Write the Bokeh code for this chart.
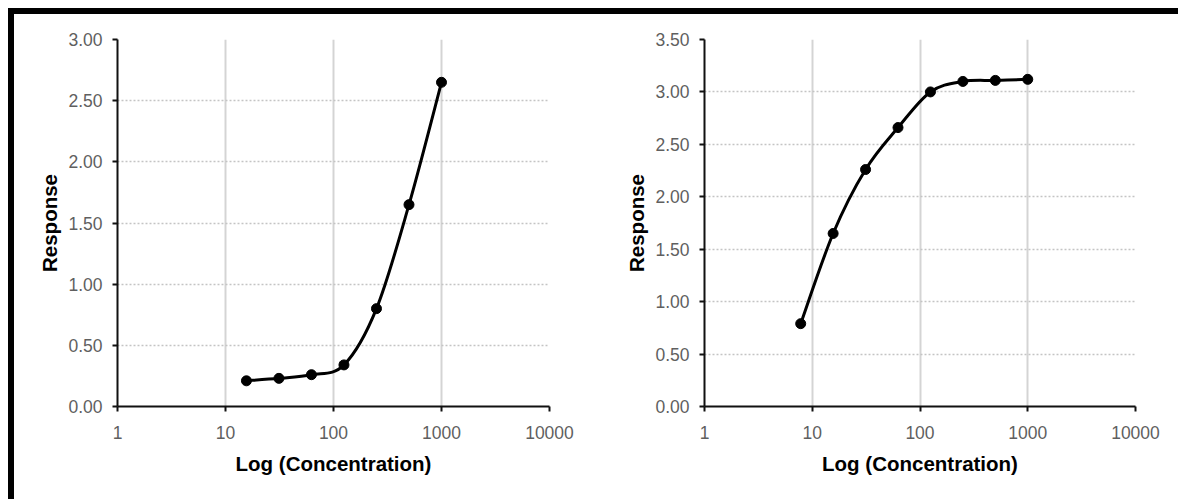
import numpy as np
from bokeh.plotting import figure
from bokeh.layouts import row
from bokeh.models import FixedTicker, NumeralTickFormatter, Range1d, ColumnDataSource
from bokeh.embed import file_html
from bokeh.resources import INLINE

# ---------------- data ----------------
conc_left = [15.625, 31.25, 62.5, 125, 250, 500, 1000]
resp_left = [0.21, 0.23, 0.26, 0.34, 0.80, 1.65, 2.65]

conc_right = [7.8125, 15.625, 31.25, 62.5, 125, 250, 500, 1000]
resp_right = [0.79, 1.65, 2.26, 2.66, 3.00, 3.10, 3.11, 3.12]

x_ticks = [1, 10, 100, 1000, 10000]
y_ticks_left = [0.0, 0.5, 1.0, 1.5, 2.0, 2.5, 3.0]
y_ticks_right = [0.0, 0.5, 1.0, 1.5, 2.0, 2.5, 3.0, 3.5]

x_title = "Log (Concentration)"
y_title = "Response"

FONT = "Liberation Sans"
FRAME_W = 432
FRAME_H = 367


def smooth_segments(xs, ys, ymax):
    """Excel-like smoothed line: Catmull-Rom -> cubic Bezier in screen space."""
    kx = FRAME_W / 4.0
    ky = FRAME_H / ymax
    u = np.log10(np.asarray(xs, float)) * kx
    v = np.asarray(ys, float) * ky
    n = len(u)
    out = dict(x0=[], y0=[], x1=[], y1=[], cx0=[], cy0=[], cx1=[], cy1=[])
    for i in range(n - 1):
        a, b = max(i - 1, 0), min(i + 2, n - 1)
        c1u = u[i] + (u[i + 1] - u[a]) / 6.0
        c1v = v[i] + (v[i + 1] - v[a]) / 6.0
        c2u = u[i + 1] - (u[b] - u[i]) / 6.0
        c2v = v[i + 1] - (v[b] - v[i]) / 6.0
        out["x0"].append(xs[i]); out["y0"].append(ys[i])
        out["x1"].append(xs[i + 1]); out["y1"].append(ys[i + 1])
        out["cx0"].append(10 ** (c1u / kx)); out["cy0"].append(c1v / ky)
        out["cx1"].append(10 ** (c2u / kx)); out["cy1"].append(c2v / ky)
    return ColumnDataSource(out)


def make_plot(xs, ys, yticks, width, right_border):
    ymax = yticks[-1]
    p = figure(width=width, height=485, x_axis_type="log",
               x_range=Range1d(1, 10000), y_range=Range1d(0, ymax),
               output_backend="svg", toolbar_location=None,
               min_border_left=103, min_border_right=right_border,
               min_border_top=25, min_border_bottom=93)
    p.outline_line_color = None
    p.background_fill_color = "white"
    p.border_fill_color = "white"

    xt = FixedTicker(ticks=x_ticks, minor_ticks=[])
    yt = FixedTicker(ticks=yticks, minor_ticks=[])
    p.xaxis.ticker = xt
    p.yaxis.ticker = yt
    p.xgrid.ticker = xt
    p.ygrid.ticker = yt
    p.xaxis.formatter = NumeralTickFormatter(format="0")
    p.yaxis.formatter = NumeralTickFormatter(format="0.00")

    p.xgrid.grid_line_color = "#d4d4d4"
    p.xgrid.grid_line_width = 2
    p.ygrid.grid_line_color = "#c4c4c4"
    p.ygrid.grid_line_width = 1.5
    p.ygrid.grid_line_dash = "2 2"

    for ax in (p.xaxis, p.yaxis):
        ax.axis_line_color = "#111111"
        ax.axis_line_width = 2
        ax.major_tick_line_color = "#111111"
        ax.major_tick_line_width = 2
        ax.major_tick_in = 0
        ax.major_tick_out = 5
        ax.minor_tick_line_color = None
        ax.major_label_text_font = FONT
        ax.major_label_text_font_size = "17.5px"
        ax.major_label_text_color = "#5f5f5f"
        ax.axis_label_text_font = FONT
        ax.axis_label_text_font_size = "20.5px"
        ax.axis_label_text_font_style = "bold"
        ax.axis_label_text_color = "black"

    p.yaxis.major_label_standoff = 10
    p.yaxis.axis_label_standoff = 4
    p.xaxis.major_label_standoff = 14
    p.xaxis.axis_label_standoff = 10
    p.xaxis.axis_label = x_title
    p.yaxis.axis_label = y_title

    src = smooth_segments(xs, ys, ymax)
    p.bezier(x0="x0", y0="y0", x1="x1", y1="y1", cx0="cx0", cy0="cy0",
             cx1="cx1", cy1="cy1", source=src, line_color="black", line_width=3)
    p.scatter(xs, ys, marker="circle", size=10, fill_color="black", line_color="black")
    return p


p1 = make_plot(conc_left, resp_left, y_ticks_left, 587, 52)
p2 = make_plot(conc_right, resp_right, y_ticks_right, 577, 43)

layout = row(p1, p2, styles={"border-top": "6px solid black",
                             "border-left": "6px solid black",
                             "margin": "8px 0 0 8px",
                             "background-color": "white"})

open("out.html", "w").write(file_html(layout, INLINE))
